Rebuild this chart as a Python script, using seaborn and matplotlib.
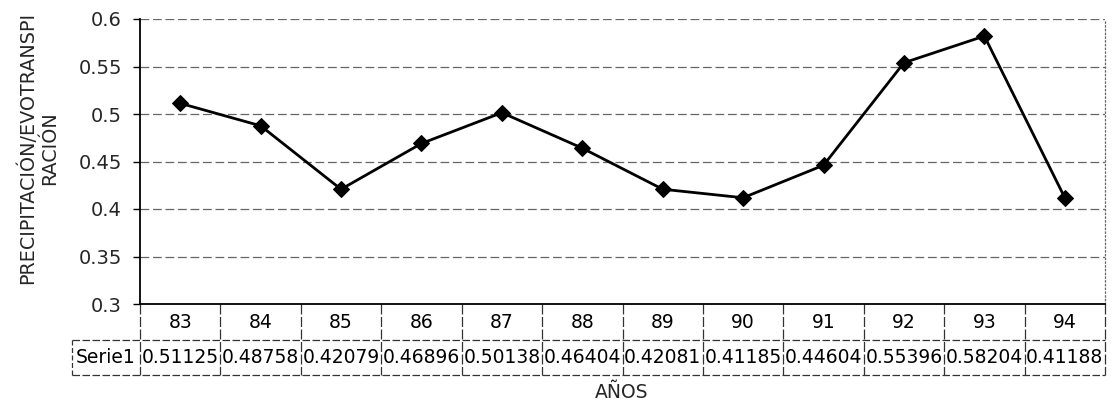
import matplotlib
matplotlib.use("Agg")
import matplotlib.pyplot as plt
import seaborn as sns
import pandas as pd
import numpy as np

years = ["83", "84", "85", "86", "87", "88", "89", "90", "91", "92", "93", "94"]
serie1 = [0.51125, 0.48758, 0.42079, 0.46896, 0.50138, 0.46404,
          0.42081, 0.41185, 0.44604, 0.55396, 0.58204, 0.41188]
serie_name = "Serie1"
yticks = [0.3, 0.35, 0.4, 0.45, 0.5, 0.55, 0.6]
ytick_labels = ["0.3", "0.35", "0.4", "0.45", "0.5", "0.55", "0.6"]

sns.set_style("white")
plt.rcParams["font.family"] = ["DejaVu Sans"]
FS = 13.5

W, H = 1113, 407
fig = plt.figure(figsize=(W / 100, H / 100), dpi=100)
L, R, T, B = 140, 1105, 19, 304
ax = fig.add_axes([L / W, 1 - B / H, (R - L) / W, (B - T) / H])

df = pd.DataFrame({"pos": np.arange(len(years)), "val": serie1})
sns.lineplot(data=df, x="pos", y="val", ax=ax, color="black", lw=2.0,
             marker="D", markersize=8, markeredgecolor="black",
             markerfacecolor="black")

ax.set_xlim(-0.5, len(years) - 0.5)
ax.set_ylim(0.3, 0.6)
ax.set_yticks(yticks)
ax.set_yticklabels(ytick_labels, fontsize=14)
ax.set_xticks([])
ax.set_xlabel("")
ax.set_ylabel("")
ax.tick_params(axis="y", which="major", direction="out", length=5, width=1,
               color="black", pad=8, left=True)

for yv in yticks[1:]:
    ax.axhline(yv, color="#666666", lw=0.9, ls=(0, (7, 3)), zorder=0)

ax.spines["top"].set_visible(False)
ax.spines["left"].set_color("black")
ax.spines["left"].set_linewidth(1.3)
ax.spines["bottom"].set_color("black")
ax.spines["bottom"].set_linewidth(1.3)
ax.spines["right"].set_color("#666666")
ax.spines["right"].set_linewidth(0.9)
ax.spines["right"].set_linestyle((0, (1, 2)))

# data table beneath the plot
tr = ax.get_xaxis_transform()
ph = B - T
r1 = -36 / ph
r2 = -71 / ph
colw = (R - L) / len(years)
xl = -0.5 - 68 / colw
n = len(years)
kw = dict(transform=tr, clip_on=False, color="#333333", lw=0.9)
ax.plot([xl, n - 0.5], [r1, r1], ls=(0, (6, 2)), **kw)
ax.plot([xl, n - 0.5], [r2, r2], ls=(0, (6, 2)), **kw)
ax.plot([xl, xl], [r1, r2], ls=(0, (4, 2)), **kw)
for i in range(n + 1):
    ax.plot([i - 0.5, i - 0.5], [0, r2], ls=(0, (8, 2)), **kw)

for i, (yr, v) in enumerate(zip(years, serie1)):
    ax.text(i, r1 / 2, yr, transform=tr, ha="center", va="center",
            fontsize=FS, color="black")
    ax.text(i, (r1 + r2) / 2, f"{v:.5f}", transform=tr, ha="center",
            va="center", fontsize=FS, color="black")
ax.text((xl - 0.5) / 2, (r1 + r2) / 2, serie_name, transform=tr,
        ha="center", va="center", fontsize=FS, color="black")

fig.text(622 / W, 1 - 393 / H, "AÑOS", ha="center", va="center", fontsize=FS)
fig.text(38 / W, 1 - 148 / H, "PRECIPITACIÓN/EVOTRANSPI\nRACIÓN",
         rotation=90, ha="center", va="center", fontsize=13.8,
         multialignment="center", linespacing=1.15)

fig.savefig("out.png", dpi=100, facecolor="white")
